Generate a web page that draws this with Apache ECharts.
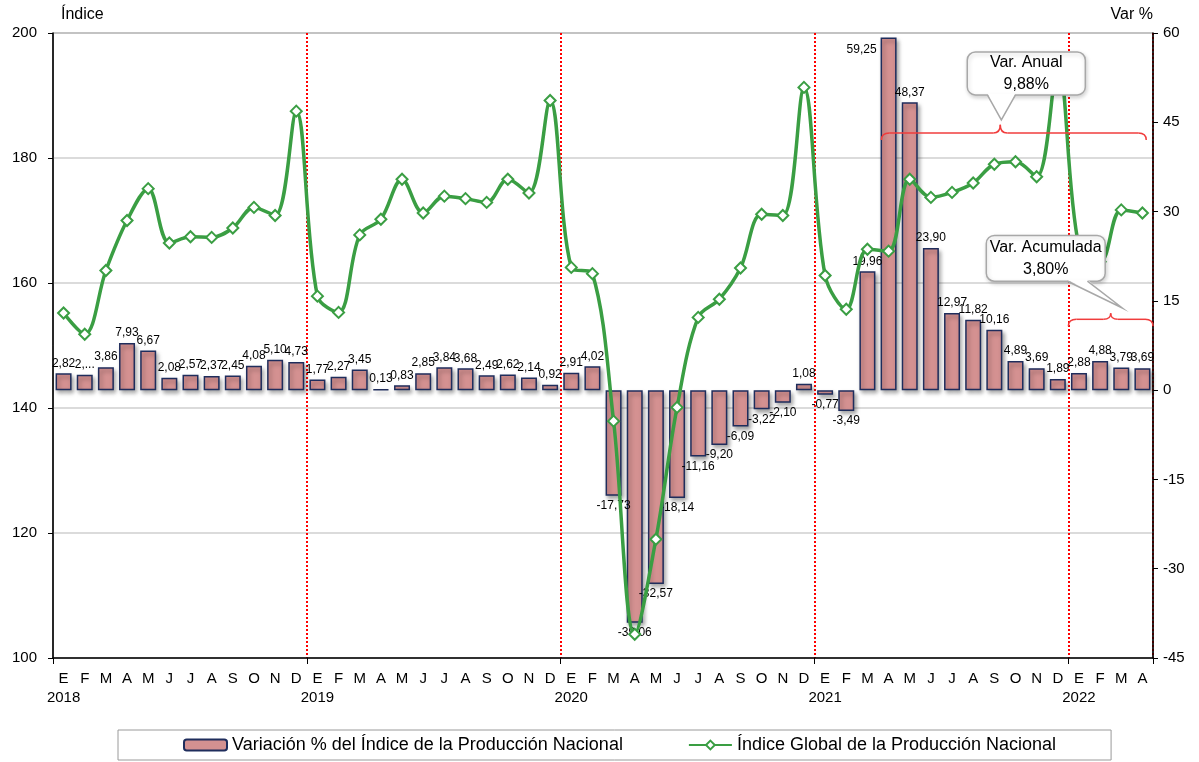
<!DOCTYPE html>
<html>
<head>
<meta charset="utf-8">
<script src="https://cdn.jsdelivr.net/npm/echarts@6/dist/echarts.min.js"></script>
<style>
  html, body { margin: 0; padding: 0; background: #fff; }
  #chart { width: 1199px; height: 762px; }
</style>
</head>
<body>
<div id="chart"></div>
<script>
// meses y años del eje
const monthLetters = ['E', 'F', 'M', 'A', 'M', 'J', 'J', 'A', 'S', 'O', 'N', 'D'];
const years = ['2018', '2019', '2020', '2021', '2022'];
const nMonths = 52;

// variación % (eje derecho)
const variacion = [
  2.82, 2.60, 3.86, 7.93, 6.67, 2.08, 2.57, 2.37, 2.45, 4.08, 5.10, 4.73,
  1.77, 2.27, 3.45, 0.13, 0.83, 2.85, 3.84, 3.68, 2.49, 2.62, 2.14, 0.92,
  2.91, 4.02, -17.73, -39.06, -32.57, -18.14, -11.16, -9.20, -6.09, -3.22, -2.10, 1.08,
  -0.77, -3.49, 19.96, 59.25, 48.37, 23.90, 12.97, 11.82, 10.16, 4.89, 3.69, 1.89,
  2.88, 4.88, 3.79, 3.69
];

// índice global (eje izquierdo)
const indice = [
  155.2, 151.8, 162.0, 170.0, 175.1, 166.4, 167.4, 167.3, 168.8, 172.1, 170.8, 187.5,
  157.9, 155.3, 167.7, 170.2, 176.6, 171.2, 173.9, 173.5, 172.9, 176.6, 174.4, 189.2,
  162.5, 161.5, 137.9, 103.8, 119.0, 140.1, 154.5, 157.4, 162.4, 171.0, 170.8, 191.3,
  161.2, 155.8, 165.4, 165.1, 176.6, 173.7, 174.5, 176.0, 179.0, 179.4, 177.0, 194.9,
  165.8, 163.4, 171.7, 171.2
];

const categories = [];
for (let i = 0; i < nMonths; i++) {
  categories.push(monthLetters[i % 12] + '-' + years[Math.floor(i / 12)]);
}

const FONT = '"Liberation Sans", Arial, sans-serif';
const nameBar = 'Variación % del Índice de la Producción Nacional';
const nameLine = 'Índice Global de la Producción Nacional';

const barData = variacion.map((v, i) => {
  const item = { value: v, label: { position: v < 0 ? 'bottom' : 'top' } };
  if (i === 39) {
    item.label = { position: [-4, 6], align: 'right', verticalAlign: 'top' };
  }
  return item;
});

const chart = echarts.init(document.getElementById('chart'));
chart.setOption({
  animation: false,
  textStyle: { fontFamily: FONT },
  grid: { left: 53, right: 46, top: 33, bottom: 104, show: true, borderColor: '#404040', borderWidth: 1 },
  legend: {
    left: 118, bottom: 2,
    padding: [6, 55, 6, 65],
    itemGap: 65,
    itemWidth: 43, itemHeight: 11,
    borderColor: '#9a9a9a', borderWidth: 1,
    textStyle: { fontSize: 18, color: '#000', fontFamily: FONT },
    data: [nameBar, nameLine]
  },
  xAxis: {
    type: 'category',
    data: categories,
    boundaryGap: true,
    axisLine: { onZero: false, lineStyle: { color: '#000', width: 1.5 } },
    axisTick: { show: true, interval: (i) => i % 12 === 0, length: 6, lineStyle: { color: '#000' } },
    axisLabel: {
      interval: 0, margin: 11, fontSize: 15, color: '#000', lineHeight: 19,
      formatter: (v) => {
        const [m, y] = v.split('-');
        return categories.indexOf(v) % 12 === 0 ? m + '\n' + y : m;
      }
    },
    splitLine: {
      show: true,
      interval: (i) => i > 0 && i % 12 === 0,
      lineStyle: { color: '#ff0000', type: 'dotted', width: 2 }
    }
  },
  yAxis: [
    {
      type: 'value', min: 100, max: 200, interval: 20,
      name: 'Índice', nameLocation: 'end', nameGap: 10,
      nameTextStyle: { fontSize: 16, color: '#000', align: 'left', padding: [0, 0, 0, 8] },
      axisLine: { show: true, lineStyle: { color: '#000', width: 1.5 } },
      axisTick: { show: true, length: 5, lineStyle: { color: '#000' } },
      axisLabel: { fontSize: 15, color: '#000', margin: 16 },
      splitLine: { show: true, lineStyle: { color: '#cfcfcf', width: 1.5 } }
    },
    {
      type: 'value', min: -45, max: 60, interval: 15, position: 'right',
      name: 'Var %', nameLocation: 'end', nameGap: 10,
      nameTextStyle: { fontSize: 16, color: '#000', align: 'right', padding: [0, 0, 0, 0] },
      axisLine: { show: true, lineStyle: { color: '#000', width: 1.5 } },
      axisTick: { show: true, length: 5, lineStyle: { color: '#000' } },
      axisLabel: { fontSize: 15, color: '#000', margin: 10 },
      splitLine: { show: false }
    }
  ],
  series: [
    {
      name: nameBar,
      type: 'bar',
      yAxisIndex: 1,
      barWidth: 16,
      data: barData,
      itemStyle: {
        color: '#d49191', borderColor: '#1f2d5c', borderWidth: 1.5,
        shadowBlur: 4, shadowOffsetX: 2, shadowOffsetY: 3, shadowColor: 'rgba(0,0,0,0.35)'
      },
      label: {
        show: true, fontSize: 12, color: '#000', distance: 4,
        formatter: (p) => p.dataIndex === 1 ? '2,...' : p.value.toFixed(2).replace('.', ',')
      }
    },
    {
      name: nameLine,
      type: 'line',
      yAxisIndex: 0,
      data: indice,
      smooth: 0.35,
      symbol: 'diamond',
      symbolSize: 11,
      z: 5,
      lineStyle: { color: '#3a9e43', width: 3.5 },
      itemStyle: { color: '#fff', borderColor: '#3a9e43', borderWidth: 2 }
    }
  ]
});

// anotaciones: llaves y globos, ubicadas con las escalas del gráfico
const x0px = chart.convertToPixel({ xAxisIndex: 0 }, categories[0]);
const x1px = chart.convertToPixel({ xAxisIndex: 0 }, categories[1]);
const pxX = (i) => x0px + (x1px - x0px) * i;
const pxY = (v) => chart.convertToPixel({ yAxisIndex: 1 }, v);

const RED = '#f03c3c';
function brace(ia, ib, it, vLine, vTip) {
  const xa = pxX(ia), xb = pxX(ib), xt = pxX(it), y = pxY(vLine), yt = pxY(vTip);
  const st = { stroke: RED, lineWidth: 1.5, fill: 'none' };
  const d = 8, h = y - yt;
  return [
    { type: 'bezierCurve', shape: { x1: xa, y1: y + 7, cpx1: xa, cpy1: y, x2: xa + d, y2: y }, style: st },
    { type: 'line', shape: { x1: xa + d, y1: y, x2: xt - 7, y2: y }, style: st },
    { type: 'bezierCurve', shape: { x1: xt - 7, y1: y, cpx1: xt, cpy1: y, x2: xt, y2: y - h }, style: st },
    { type: 'bezierCurve', shape: { x1: xt, y1: y - h, cpx1: xt, cpy1: y, x2: xt + 7, y2: y }, style: st },
    { type: 'line', shape: { x1: xt + 7, y1: y, x2: xb - d, y2: y }, style: st },
    { type: 'bezierCurve', shape: { x1: xb - d, y1: y, cpx1: xb, cpy1: y, x2: xb, y2: y + 7 }, style: st }
  ];
}

function callout(box, base, tip, text) {
  const bx0 = pxX(box[0]), bx1 = pxX(box[1]), by0 = pxY(box[2]), by1 = pxY(box[3]);
  const b0 = pxX(base[0]), b1 = pxX(base[1]), tx = pxX(tip[0]), ty = pxY(tip[1]);
  const GRAY = '#a8a8a8';
  return [
    { type: 'rect', shape: { x: bx0, y: by0, width: bx1 - bx0, height: by1 - by0, r: 8 },
      style: { fill: '#fff', stroke: GRAY, lineWidth: 1.5, shadowBlur: 4, shadowOffsetX: 1, shadowOffsetY: 2, shadowColor: 'rgba(0,0,0,0.18)' } },
    { type: 'polygon', shape: { points: [[b0, by1 - 1.5], [b1, by1 - 1.5], [tx, ty]] }, style: { fill: '#fff' } },
    { type: 'polyline', shape: { points: [[b0, by1], [tx, ty], [b1, by1]] }, style: { stroke: GRAY, lineWidth: 1.5, fill: 'none' } },
    { type: 'text', x: (bx0 + bx1) / 2, y: (by0 + by1) / 2,
      style: { text: text, fontSize: 16, fontFamily: FONT, fill: '#000', align: 'center', verticalAlign: 'middle', lineHeight: 22 } }
  ];
}

const elements = [].concat(
  brace(38.66, 51.18, 44.28, 43.2, 44.6),
  brace(47.5, 51.5, 49.5, 11.9, 12.9),
  callout([42.72, 48.3, 56.8, 49.6], [43.67, 45.0], [44.33, 45.4], 'Var. Anual\n9,88%'),
  callout([43.62, 49.24, 26.0, 18.3], [47.45, 48.4], [50.05, 13.8], 'Var. Acumulada\n3,80%')
);
elements.forEach((e) => { e.z = 100; });
chart.setOption({ graphic: { elements: elements } });
</script>
</body>
</html>
